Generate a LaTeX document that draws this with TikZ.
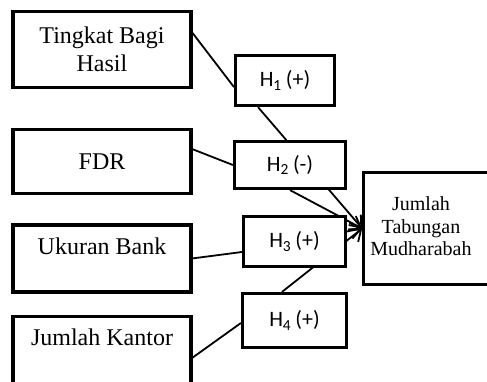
\documentclass[tikz,border=0pt]{standalone}
\usepackage{fontspec}
\setmainfont{Liberation Serif}
\newfontfamily\calfont{Carlito}
\usetikzlibrary{arrows.meta, positioning, backgrounds}

\begin{document}
\begin{tikzpicture}[
    x=0.5pt, y=-0.5pt,
    every node/.style={font=\fontsize{12}{13.8}\selectfont},
    var/.style={draw, fill=white, line width=1.6pt, minimum width=89pt, align=center},
    topbox/.style={text depth=12.5pt},
    hyp/.style={draw, fill=white, line width=1.6pt, font=\calfont\fontsize{11}{13}\selectfont},
    link/.style={line width=0.9pt},
    effect/.style={line width=0.9pt, -{Straight Barb[length=5pt, width=8pt]}}
]
\useasboundingbox (0,0) rectangle (487,381);

%% Independent variables
\node[var, minimum height=38pt] (tbh) at (102,49.5) {Tingkat Bagi\\Hasil};
\node[var, minimum height=32pt, below=19.5pt of tbh] (fdr) {FDR};
\node[var, topbox, minimum height=33.5pt, below=14pt of fdr] (ukb) {Ukuran Bank};
\node[var, topbox, minimum height=33.5pt, below=10.5pt of ukb] (jkk) {Jumlah Kantor};

%% Hypotheses
\node[hyp, minimum width=49.5pt, minimum height=25pt] (h1) at (285,80.5) {H\textsubscript{1}\,(+)};
\node[hyp, minimum width=55.5pt, minimum height=23.5pt] (h2) at (290,165) {H\textsubscript{2}\,(-)};
\node[hyp, minimum width=51pt, minimum height=25pt] (h3) at (294.5,241.5) {H\textsubscript{3}\,(+)};
\node[hyp, minimum width=52pt, minimum height=27pt] (h4) at (294.5,320.5) {H\textsubscript{4}\,(+)};

%% Dependent variable
\node[var, minimum width=66pt, minimum height=56pt, font=\fontsize{10}{11.3}\selectfont] (jts) at (432.5,228.5)
    {\begin{tabular}{@{}c@{}}Jumlah\\Tabungan\\Mudharabah\end{tabular}\hspace*{11.5pt}};

%% Connectors
\begin{scope}[on background layer]
\draw[link] ([yshift=8.25pt]tbh.east) -- ([yshift=-3.25pt]h1.west);
\draw[link] ([yshift=6.25pt]fdr.east) -- (h2.west);
\draw[link] (ukb.east) -- ([yshift=-5.25pt]h3.west);
\draw[link] ([yshift=-4pt]jkk.east) -- ([yshift=-1.25pt]h4.west);

\draw[effect] ([xshift=-13.5pt]h1.south) -- (jts.west);
\draw[effect] (h2.south) -- (jts.west);
\draw[effect] (h3.center) -- (jts.west);
\draw[effect] ([xshift=-6.25pt]h4.north) -- (jts.west);
\end{scope}
\end{tikzpicture}
\end{document}
